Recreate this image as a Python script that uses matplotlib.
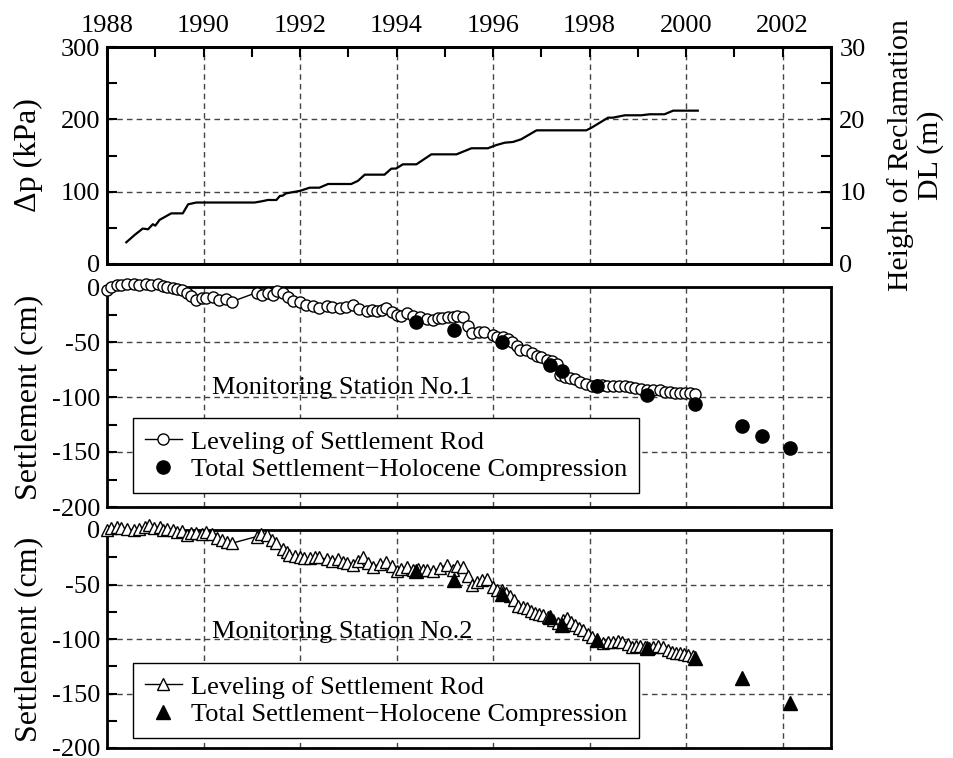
import matplotlib
matplotlib.use("Agg")
import matplotlib.pyplot as plt
from matplotlib.ticker import MultipleLocator

plt.rcParams['font.family'] = ['Liberation Serif', 'DejaVu Serif']
plt.rcParams['axes.unicode_minus'] = False

# loading history (top panel)
dp_year = [1988.40, 1988.57, 1988.74, 1988.85, 1988.95, 1989.00, 1989.09, 1989.33, 1989.57, 1989.68,
           1989.85, 1991.06, 1991.23, 1991.33, 1991.51, 1991.58, 1991.64, 1991.71, 1991.99, 1992.20,
           1992.40, 1992.58, 1993.06, 1993.20, 1993.34, 1993.75, 1993.89, 1993.99, 1994.13, 1994.41,
           1994.72, 1995.24, 1995.55, 1995.89, 1996.07, 1996.24, 1996.41, 1996.58, 1996.90, 1997.93,
           1998.04, 1998.38, 1998.48, 1998.73, 1999.07, 1999.24, 1999.55, 1999.73, 2000.24]
dp_kpa = [30, 40, 49, 48, 55, 53, 61, 70, 70, 82.5,
          85, 85, 87, 88.5, 88.5, 94, 94.5, 97.7, 101, 105.5,
          105.5, 110.6, 110.6, 115, 123.5, 123.5, 131.8, 132, 137.8, 137.8,
          151.6, 151.6, 160, 160, 164.5, 167.7, 168.7, 172.4, 184.8, 184.8,
          188.5, 202.3, 202.3, 205.6, 205.6, 207, 207, 212, 212]

# station 1 - leveling of settlement rod
st1_year = [1988.00, 1988.09, 1988.20, 1988.30, 1988.42, 1988.55, 1988.67, 1988.80, 1988.92, 1989.05,
            1989.15, 1989.25, 1989.36, 1989.46, 1989.56, 1989.65, 1989.75, 1989.85, 1989.96, 1990.06,
            1990.19, 1990.33, 1990.46, 1990.58, 1991.10, 1991.22, 1991.33, 1991.43, 1991.53, 1991.64,
            1991.74, 1991.85, 1991.99, 1992.13, 1992.26, 1992.40, 1992.55, 1992.67, 1992.82, 1992.96,
            1993.09, 1993.23, 1993.38, 1993.48, 1993.59, 1993.69, 1993.79, 1993.90, 1994.00, 1994.10,
            1994.21, 1994.33, 1994.48, 1994.62, 1994.75, 1994.85, 1994.95, 1995.06, 1995.16, 1995.26,
            1995.37, 1995.47, 1995.57, 1995.70, 1995.82, 1995.99, 1996.09, 1996.20, 1996.30, 1996.40,
            1996.49, 1996.55, 1996.69, 1996.80, 1996.90, 1997.00, 1997.11, 1997.22, 1997.32, 1997.38,
            1997.48, 1997.59, 1997.69, 1997.79, 1997.92, 1998.04, 1998.15, 1998.25, 1998.36, 1998.48,
            1998.60, 1998.73, 1998.83, 1998.93, 1999.06, 1999.18, 1999.31, 1999.45, 1999.56, 1999.66,
            1999.76, 1999.87, 1999.97, 2000.07, 2000.18]
st1_set = [-3, 0, 2, 2, 3, 3, 2, 3, 2, 3,
           1, 0, -1, -2, -3, -5, -8, -12, -10, -10,
           -9, -12, -11, -13.5, -5, -7, -5, -7, -4, -5,
           -9, -13, -14, -16, -17, -19, -17, -18, -19, -18,
           -16, -20, -22, -21, -22, -21, -19, -23, -25, -26,
           -24, -26, -27, -29, -30, -28, -28, -27, -27, -26,
           -27, -35, -42, -41, -41, -44, -45, -45, -47, -50,
           -54, -57, -57, -60, -63, -64, -66, -67, -70, -80,
           -82, -83, -84, -86, -88, -90, -89, -89, -90, -90,
           -90, -90, -91, -92, -93, -94, -94, -94, -95, -95,
           -96, -96, -96, -96, -97]

# station 1 - total settlement minus holocene compression
st1_tot_year = [1994.41, 1995.18, 1996.18, 1997.17, 1997.42, 1998.15, 1999.18, 2000.18, 2001.15, 2001.57, 2002.15]
st1_tot = [-32, -39, -50, -71, -76, -90, -98, -106, -126, -135, -146]

# station 2 - leveling of settlement rod
st2_year = [1988.00, 1988.09, 1988.20, 1988.30, 1988.42, 1988.55, 1988.67, 1988.78, 1988.88, 1988.98,
            1989.09, 1989.15, 1989.25, 1989.36, 1989.46, 1989.56, 1989.65, 1989.75, 1989.85, 1989.96,
            1990.06, 1990.17, 1990.27, 1990.38, 1990.48, 1990.60, 1991.10, 1991.20, 1991.31, 1991.41,
            1991.51, 1991.64, 1991.72, 1991.78, 1991.89, 1991.99, 1992.09, 1992.20, 1992.30, 1992.40,
            1992.55, 1992.67, 1992.78, 1992.88, 1992.98, 1993.09, 1993.19, 1993.30, 1993.40, 1993.51,
            1993.65, 1993.79, 1993.90, 1994.00, 1994.10, 1994.21, 1994.33, 1994.44, 1994.54, 1994.64,
            1994.75, 1994.89, 1995.04, 1995.16, 1995.26, 1995.37, 1995.47, 1995.57, 1995.66, 1995.76,
            1995.87, 1995.99, 1996.09, 1996.18, 1996.26, 1996.35, 1996.43, 1996.52, 1996.62, 1996.70,
            1996.79, 1996.87, 1996.95, 1997.03, 1997.14, 1997.24, 1997.35, 1997.45, 1997.53, 1997.62,
            1997.70, 1997.78, 1997.87, 1997.97, 1998.05, 1998.15, 1998.27, 1998.37, 1998.48, 1998.58,
            1998.68, 1998.79, 1998.87, 1998.96, 1999.04, 1999.14, 1999.23, 1999.31, 1999.41, 1999.51,
            1999.62, 1999.70, 1999.79, 1999.87, 1999.95, 2000.04, 2000.14]
st2_set = [0, 2, 3, 2, 1, 0, 1, 3, 4.5, 2,
           3, 0, 1, 0, -2, -1, -4.5, -3, -3, -4,
           -2, -4, -7, -9, -11, -12, -6, -4, -5, -9,
           -12, -17, -20, -23, -24, -25, -26, -26, -25, -25,
           -27, -28, -27, -29, -30, -32, -28, -25, -30, -34,
           -31, -29, -33, -38, -36, -34, -37, -36, -37, -37,
           -38, -35, -32, -37, -33, -34, -42, -50, -48, -46,
           -45, -52, -55, -55, -58, -61, -64, -70, -71, -72,
           -74, -76, -77, -78, -80, -83, -85, -83, -81, -84,
           -87, -90, -92, -95, -98, -101, -104, -103, -103, -102,
           -103, -105, -107, -106, -106, -107, -108, -107, -106, -107,
           -110, -112, -113, -113, -114, -115, -116]

# station 2 - total settlement minus holocene compression
st2_tot_year = [1994.41, 1995.18, 1996.18, 1997.17, 1997.42, 1998.15, 1999.18, 2000.18, 2001.15, 2002.15]
st2_tot = [-38, -46, -59, -80, -87, -101, -108, -117, -136, -159]

year_ticks = [1988, 1990, 1992, 1994, 1996, 1998, 2000, 2002]

FS_TICK = 19
FS_LABEL = 23

fig = plt.figure(figsize=(9.54, 7.58), dpi=100)
L, W = 107 / 954, 724 / 954
ax1 = fig.add_axes([L, 1 - 264 / 758, W, 217 / 758])
ax2 = fig.add_axes([L, 1 - 507 / 758, W, 220 / 758])
ax3 = fig.add_axes([L, 1 - 748 / 758, W, 218 / 758])

grid_kw = dict(color='#444444', linestyle=(0, (4, 3)), linewidth=1.0)


def style(ax, ymin, ymax, major, minor):
    ax.set_xlim(1988, 2003)
    ax.set_ylim(ymin, ymax)
    ax.xaxis.set_major_locator(MultipleLocator(2))
    ax.xaxis.set_minor_locator(MultipleLocator(1))
    ax.yaxis.set_major_locator(MultipleLocator(major))
    ax.yaxis.set_minor_locator(MultipleLocator(minor))
    ax.grid(True, which='major', **grid_kw)
    ax.tick_params(which='both', direction='in', length=7, width=1.5,
                   bottom=False, top=False, labelbottom=False, labelsize=FS_TICK)
    ax.tick_params(axis='y', pad=5)
    for s in ax.spines.values():
        s.set_linewidth(2)
        s.set_zorder(5)


# top panel
style(ax1, 0, 300, 100, 50)
ax1.tick_params(axis='x', which='both', top=True, labeltop=True, pad=7)
ax1.set_xticks(year_ticks)
ax1.plot(dp_year, dp_kpa, color='black', linewidth=1.6)
ax1.set_ylabel('Δp (kPa)', fontsize=FS_LABEL)
ax1.yaxis.set_label_coords(-0.088, 0.5)
ax1r = ax1.twinx()
ax1r.set_ylim(0, 30)
ax1r.yaxis.set_major_locator(MultipleLocator(10))
ax1r.yaxis.set_minor_locator(MultipleLocator(5))
ax1r.tick_params(which='both', direction='in', length=7, width=1.5, labelsize=FS_TICK, pad=6)
ax1r.set_ylabel('Height of Reclamation\nDL (m)', fontsize=21.5, rotation=90,
                va='top', ha='center', multialignment='center', linespacing=1.15)
ax1r.yaxis.set_label_coords(1.077, 0.5)
for s in ax1r.spines.values():
    s.set_linewidth(2)

# middle panel - station 1
style(ax2, -200, 0, 50, 25)
ax2.plot(st1_year, st1_set, color='black', linewidth=1.0, marker='o', markersize=8,
         markerfacecolor='white', markeredgecolor='black', markeredgewidth=1.0,
         clip_on=False, zorder=6, label='Leveling of Settlement Rod')
ax2.plot(st1_tot_year, st1_tot, linestyle='none', marker='o', markersize=9.5,
         color='black', zorder=7, label='Total Settlement\u2212Holocene Compression')
ax2.set_ylabel('Settlement (cm)', fontsize=FS_LABEL)
ax2.yaxis.set_label_coords(-0.088, 0.5)
ax2.text(0.325, 0.54, 'Monitoring Station No.1', transform=ax2.transAxes, fontsize=FS_TICK,
         ha='center', va='center', zorder=8)

# bottom panel - station 2
style(ax3, -200, 0, 50, 25)
ax3.plot(st2_year, st2_set, color='black', linewidth=1.0, marker='^', markersize=9,
         markerfacecolor='white', markeredgecolor='black', markeredgewidth=1.0,
         clip_on=False, zorder=6, label='Leveling of Settlement Rod')
ax3.plot(st2_tot_year, st2_tot, linestyle='none', marker='^', markersize=10.5,
         color='black', zorder=7, label='Total Settlement\u2212Holocene Compression')
ax3.set_ylabel('Settlement (cm)', fontsize=FS_LABEL)
ax3.yaxis.set_label_coords(-0.088, 0.5)
ax3.text(0.325, 0.532, 'Monitoring Station No.2', transform=ax3.transAxes, fontsize=FS_TICK,
         ha='center', va='center', zorder=8)

for ax, yb in ((ax2, 0.064), (ax3, 0.046)):
    leg = ax.legend(loc='lower left', bbox_to_anchor=(0.036, yb), fontsize=FS_TICK,
                    numpoints=1, handlelength=1.4, handletextpad=0.35, borderpad=0.45,
                    labelspacing=0.15, borderaxespad=0, fancybox=False, framealpha=1,
                    edgecolor='black')
    leg.get_frame().set_linewidth(1.0)
    leg.set_zorder(9)

fig.savefig('out.png', dpi=100)
